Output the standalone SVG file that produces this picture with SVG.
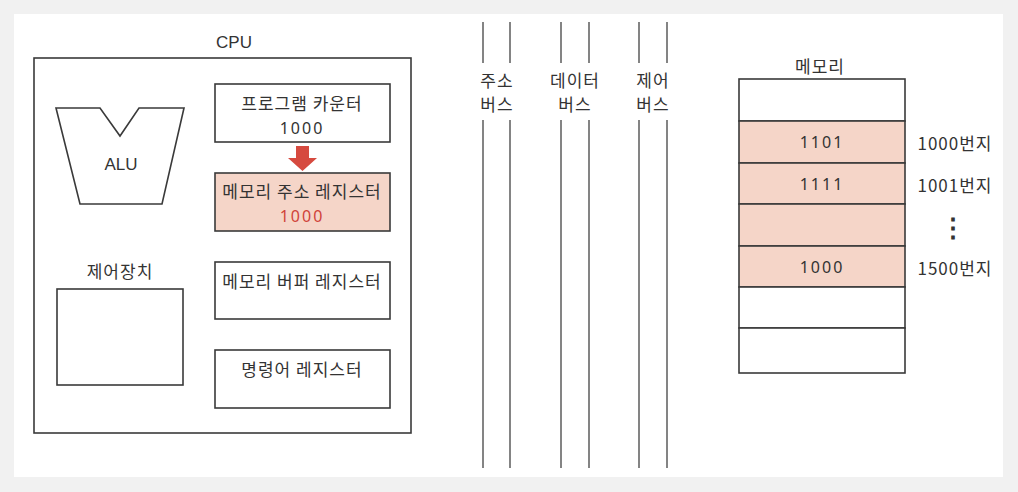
<svg xmlns="http://www.w3.org/2000/svg" width="1018" height="492" viewBox="0 0 1018 492">
<style>
.k{font-family:"Noto Sans CJK KR","Noto Sans",sans-serif;font-size:17px;fill:#333;text-anchor:middle;dominant-baseline:central;letter-spacing:1px}
.l{font-family:"Liberation Sans",Arial,sans-serif;font-size:17px;fill:#333;text-anchor:middle;dominant-baseline:central}
.n{font-family:"Noto Sans","Liberation Sans",sans-serif;font-size:16px;fill:#333;text-anchor:middle;dominant-baseline:central;letter-spacing:2px}
.box{fill:#fff;stroke:#3a3a3a;stroke-width:1.6}
.hl{fill:#f5d5c8;stroke:#3a3a3a;stroke-width:1.6}
.bus{stroke:#777;stroke-width:1.8}
</style>
<rect width="1018" height="492" fill="#f1f1f1"/>
<rect x="14" y="14" width="989" height="463" fill="#fff"/>
<g id="cpu">
<text class="l" x="234" y="42">CPU</text>
<rect class="box" x="34" y="58" width="377" height="375"/>
</g>
<g id="alu">
<path class="box" d="M56 108 L100 108 L120 136 L139 108 L184 108 L162 204 L80 204 Z"/>
<text class="l" x="121" y="164">ALU</text>
</g>
<g id="control-unit">
<text class="k" x="120" y="270">제어장치</text>
<rect class="box" x="57" y="289" width="126" height="96"/>
</g>
<g id="pc">
<rect class="box" x="215" y="84" width="175" height="58"/>
<text class="k" x="302" y="102">프로그램 카운터</text>
<text class="n" x="302" y="128">1000</text>
</g>
<g id="mar">
<rect class="hl" x="215" y="173" width="175" height="58"/>
<text class="k" x="302" y="190">메모리 주소 레지스터</text>
<text class="n" x="302" y="216" style="fill:#d0433a">1000</text>
</g>
<g id="mbr">
<rect class="box" x="215" y="262" width="175" height="57"/>
<text class="k" x="302" y="280">메모리 버퍼 레지스터</text>
</g>
<g id="ir">
<rect class="box" x="215" y="350" width="175" height="58"/>
<text class="k" x="302" y="368">명령어 레지스터</text>
</g>
<g id="connectors">
<path d="M296 146 H309 V158 H317 L302.5 171 L288 158 H296 Z" fill="#d64a3f"/>
</g>
<g id="address-bus">
<line class="bus" x1="483" y1="22" x2="483" y2="63"/><line class="bus" x1="510" y1="22" x2="510" y2="63"/>
<line class="bus" x1="483" y1="120" x2="483" y2="468"/><line class="bus" x1="510" y1="120" x2="510" y2="468"/>
<text class="k" x="497" y="79">주소</text>
<text class="k" x="497" y="103">버스</text>
</g>
<g id="data-bus">
<line class="bus" x1="561" y1="22" x2="561" y2="63"/><line class="bus" x1="589" y1="22" x2="589" y2="63"/>
<line class="bus" x1="561" y1="120" x2="561" y2="468"/><line class="bus" x1="589" y1="120" x2="589" y2="468"/>
<text class="k" x="575" y="79">데이터</text>
<text class="k" x="575" y="103">버스</text>
</g>
<g id="control-bus">
<line class="bus" x1="639" y1="22" x2="639" y2="63"/><line class="bus" x1="667" y1="22" x2="667" y2="63"/>
<line class="bus" x1="639" y1="120" x2="639" y2="468"/><line class="bus" x1="667" y1="120" x2="667" y2="468"/>
<text class="k" x="653" y="79">제어</text>
<text class="k" x="653" y="103">버스</text>
</g>
<g id="memory">
<text class="k" x="820" y="65">메모리</text>
<rect class="box" x="739" y="79" width="166" height="42"/>
<rect class="hl" x="739" y="121" width="166" height="42"/>
<rect class="hl" x="739" y="163" width="166" height="41"/>
<rect class="hl" x="739" y="204" width="166" height="42"/>
<rect class="hl" x="739" y="246" width="166" height="41"/>
<rect class="box" x="739" y="287" width="166" height="41"/>
<rect class="box" x="739" y="328" width="166" height="45"/>
<text class="n" x="822" y="142">1101</text>
<text class="n" x="822" y="184">1111</text>
<text class="n" x="822" y="267">1000</text>
<text class="k" x="955" y="142">1000번지</text>
<text class="k" x="955" y="184">1001번지</text>
<text class="k" x="953" y="225" style="letter-spacing:0;font-size:26px;font-weight:bold">⋮</text>
<text class="k" x="955" y="267">1500번지</text>
</g>
</svg>
